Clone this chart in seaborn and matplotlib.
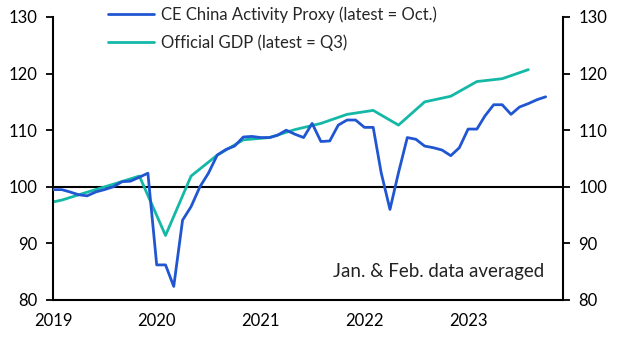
import matplotlib
matplotlib.use("Agg")
import matplotlib.pyplot as plt
import seaborn as sns
import pandas as pd

# ---- data ----
proxy_start = "2019-01-01"
proxy_values = [
    99.5, 99.5, 99.1, 98.6, 98.4, 99.1, 99.5, 100.0, 100.9, 101.0, 101.7, 102.4,
    86.2, 86.2, 82.4, 94.1, 96.5, 100.0, 102.4, 105.6, 106.6, 107.2, 108.8, 108.9,
    108.7, 108.7, 109.1, 110.0, 109.3, 108.7, 111.2, 108.0, 108.1, 110.9, 111.8, 111.8,
    110.5, 110.5, 102.5, 96.0, 102.5, 108.7, 108.4, 107.2, 106.9, 106.5, 105.5, 106.9,
    110.2, 110.2, 112.5, 114.5, 114.5, 112.8, 114.1, 114.7, 115.4, 115.9,
]
gdp_start = "2018-11-01"   # quarterly, plotted at mid-quarter month (Q4 2018 .. Q3 2023)
gdp_values = [
    96.7,
    97.65, 99.05, 100.45, 101.9,
    91.4, 101.9, 105.6, 108.3,
    108.7, 110.1, 111.2, 112.8,
    113.5, 110.9, 115.0, 116.0,
    118.6, 119.1, 120.7,
]
proxy_label = "CE China Activity Proxy (latest = Oct.)"
gdp_label = "Official GDP (latest = Q3)"
note_text = "Jan. & Feb. data averaged"
y_ticks = [80, 90, 100, 110, 120, 130]
year_ticks = ["2019", "2020", "2021", "2022", "2023"]

proxy_df = pd.DataFrame({
    "date": pd.date_range(proxy_start, periods=len(proxy_values), freq="MS"),
    "value": proxy_values,
})
gdp_df = pd.DataFrame({
    "date": pd.date_range(gdp_start, periods=len(gdp_values), freq="3MS"),
    "value": gdp_values,
})

sns.set_theme(style="white")
plt.rcParams["font.family"] = ["Lato", "DejaVu Sans"]

blue = "#2156d2"
teal = "#14b8a6"

fig = plt.figure(figsize=(6.25, 3.38), dpi=100)
ax = fig.add_axes([53 / 625, 1 - 300 / 338, (563 - 53) / 625, (300 - 17) / 338])

ax.axhline(100, color="black", lw=1.5, zorder=1)
sns.lineplot(data=proxy_df, x="date", y="value", ax=ax, color=blue, lw=2.0,
             label=proxy_label, zorder=3)
sns.lineplot(data=gdp_df, x="date", y="value", ax=ax, color=teal, lw=2.0,
             label=gdp_label, zorder=2)

ax.set_xlim(pd.Timestamp("2019-01-01"), pd.Timestamp("2023-12-01"))
ax.set_ylim(80, 130)
ax.set_xlabel("")
ax.set_ylabel("")

ax.set_yticks(y_ticks)
ax.set_yticklabels([str(t) for t in y_ticks])
ax.tick_params(axis="y", which="both", left=True, right=True, labelleft=True,
               labelright=True, direction="out", length=5, width=1.3,
               labelsize=12, colors="black", pad=6)
xt = [pd.Timestamp(f"{y}-01-01") for y in year_ticks]
ax.set_xticks(xt)
ax.set_xticklabels(year_ticks)
ax.tick_params(axis="x", direction="out", length=5, width=1.3, labelsize=12,
               colors="black", pad=4)

for s in ["left", "right", "bottom"]:
    ax.spines[s].set_visible(True)
    ax.spines[s].set_color("black")
    ax.spines[s].set_linewidth(1.5)
ax.spines["top"].set_visible(False)
ax.grid(False)

leg = ax.legend(loc="upper left", bbox_to_anchor=(0.095, 1.062), frameon=False,
                fontsize=12, handlelength=2.75, handletextpad=0.4,
                labelspacing=0.72, borderaxespad=0)

ax.text(0.963, 0.10, note_text, transform=ax.transAxes, ha="right", va="center",
        fontsize=13.5, color="#222222")

fig.savefig("out.png", dpi=100)
